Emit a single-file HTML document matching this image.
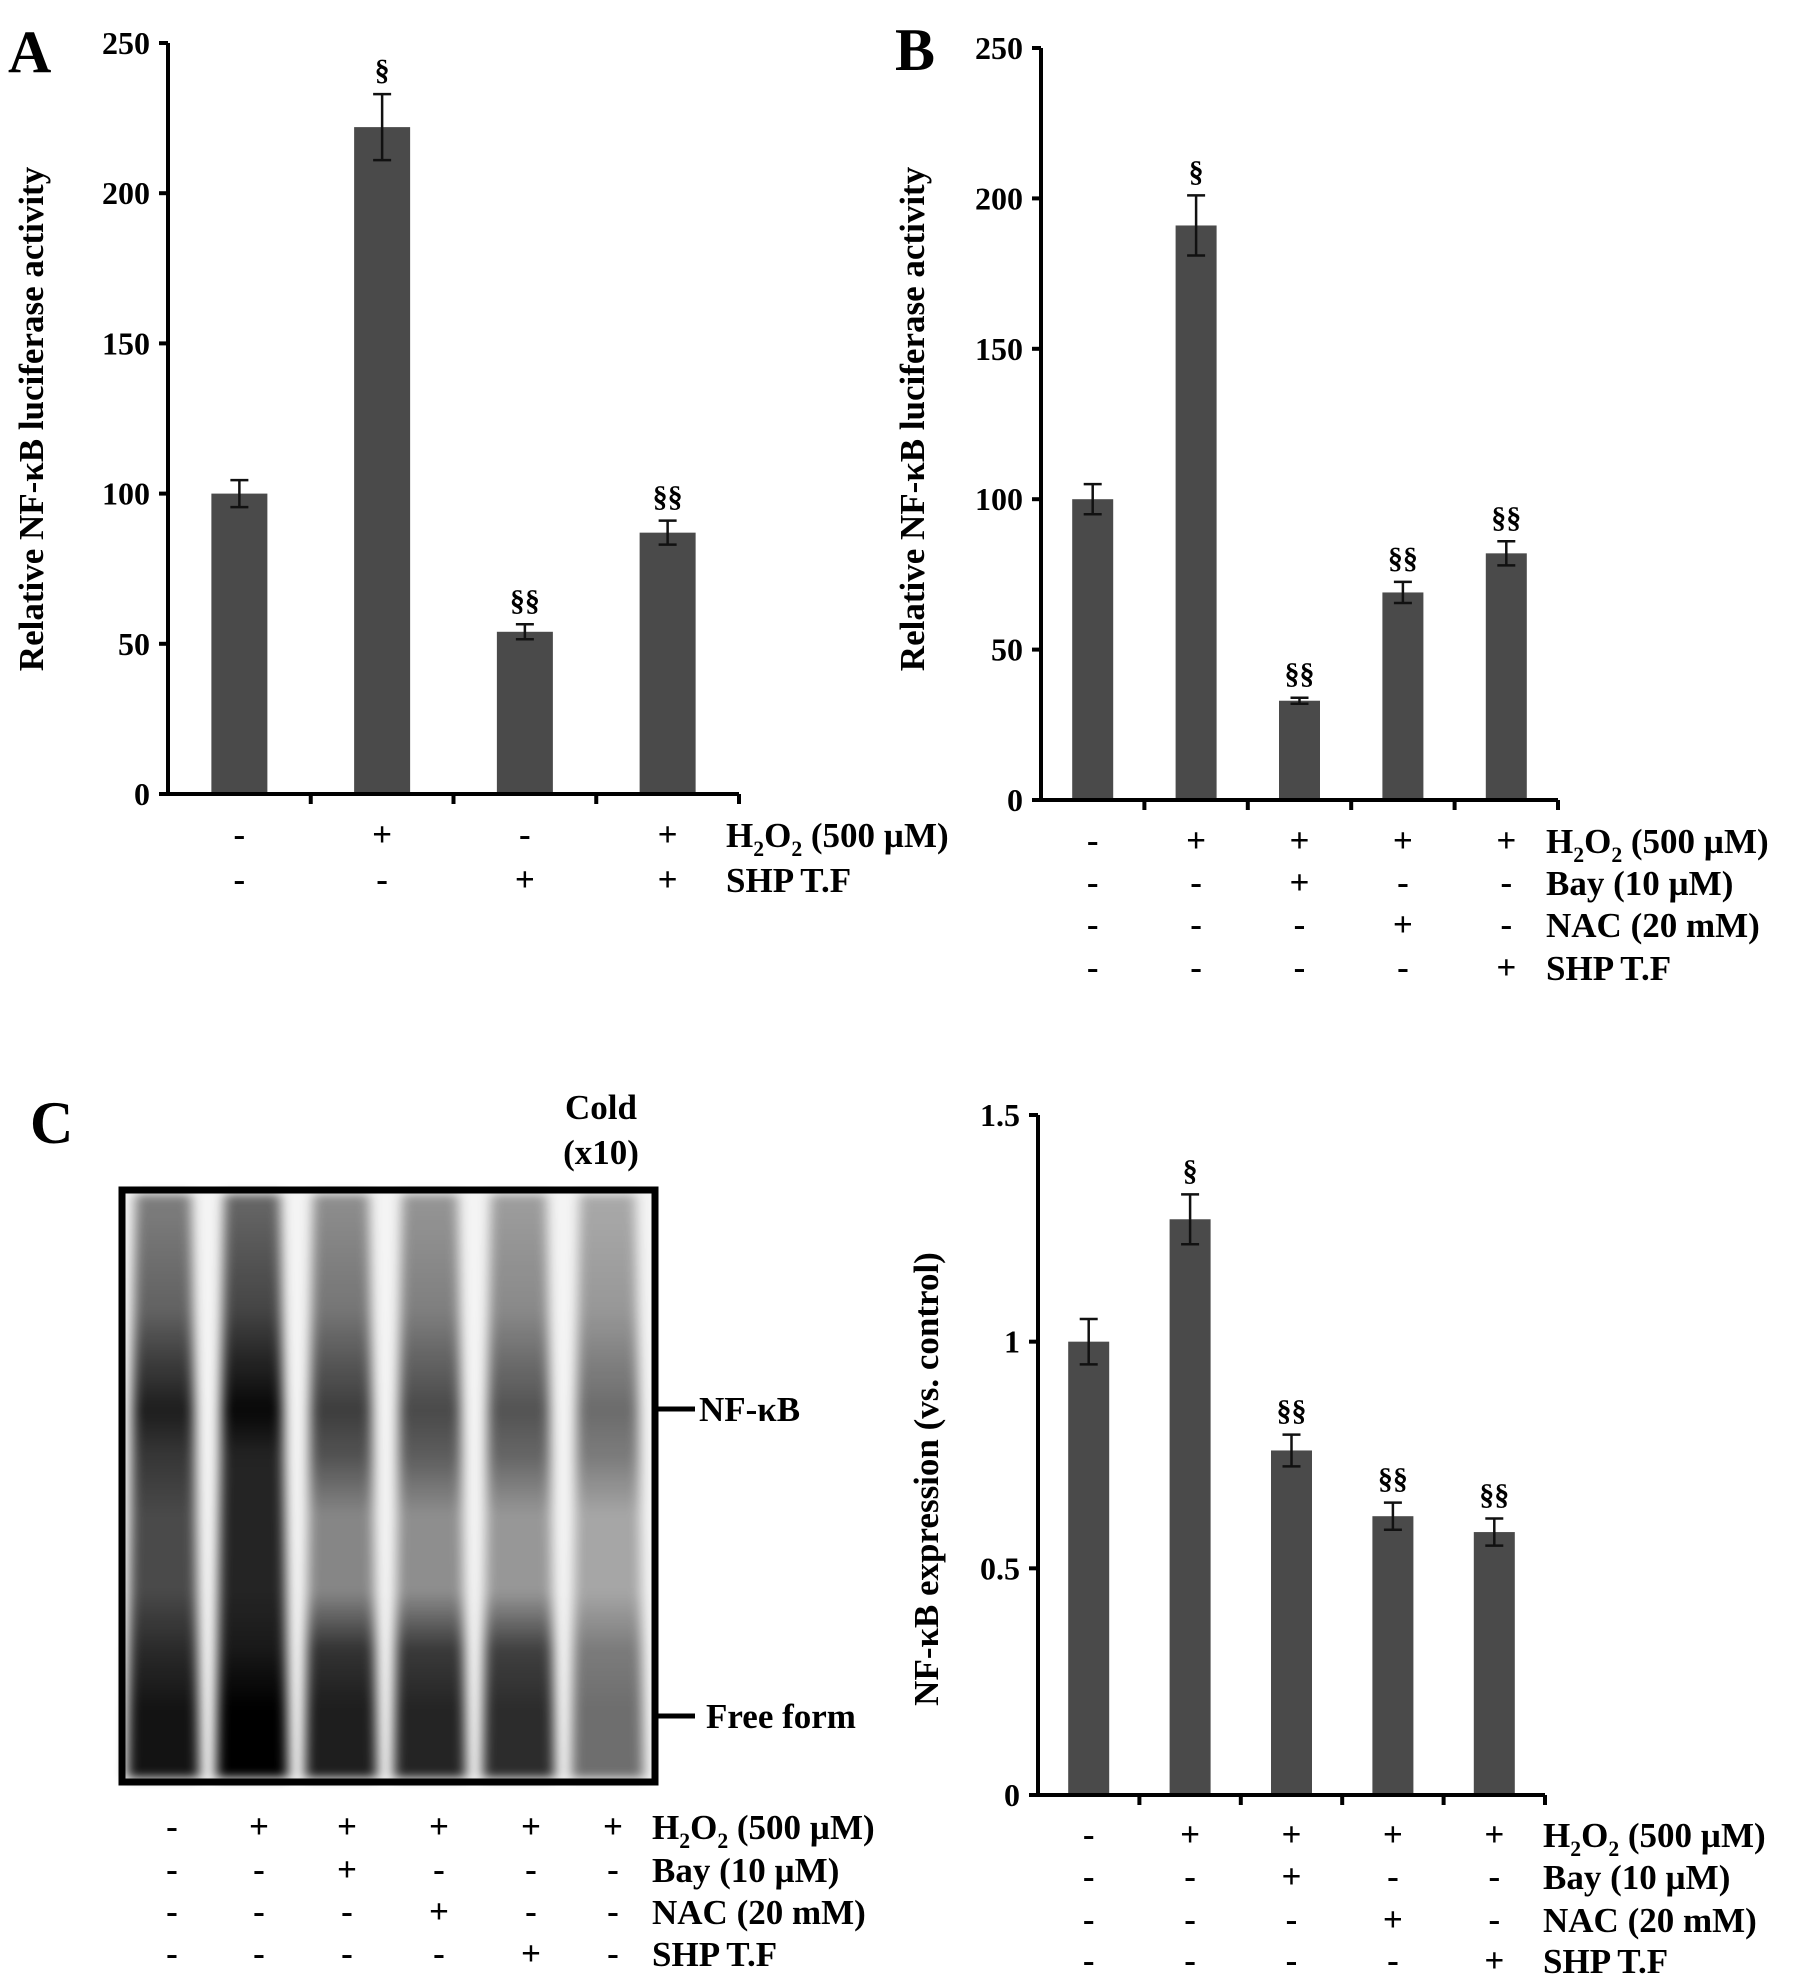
<!DOCTYPE html>
<html><head><meta charset="utf-8">
<style>
html,body{margin:0;padding:0;background:#fff;}
svg{display:block;font-family:"Liberation Serif",serif;font-weight:bold;}
</style></head>
<body>
<svg id="fig" width="1795" height="1988" viewBox="0 0 1795 1988" xmlns="http://www.w3.org/2000/svg">
<defs>
<filter id="blur" x="-30%" y="-5%" width="160%" height="110%"><feGaussianBlur stdDeviation="6 5"/></filter>
</defs>
</svg>
<script>
// ---------- Panel A data ----------
const aValues = [100, 222, 54, 87];
const aErrors = [4.5, 11, 2.5, 4];
const aMarks = ["", "§", "§§", "§§"];
const aTicks = [0, 50, 100, 150, 200, 250];
const aRowLabels = ["H₂O₂ (500 µM)", "SHP T.F"];
const aRows = [["-", "+", "-", "+"], ["-", "-", "+", "+"]];
// ---------- Panel B data ----------
const bValues = [100, 191, 33, 69, 82];
const bErrors = [5, 10, 1, 3.5, 4];
const bMarks = ["", "§", "§§", "§§", "§§"];
const bTicks = [0, 50, 100, 150, 200, 250];
const bRowLabels = ["H₂O₂ (500 µM)", "Bay (10 µM)", "NAC (20 mM)", "SHP T.F"];
const bRows = [["-", "+", "+", "+", "+"], ["-", "-", "+", "-", "-"], ["-", "-", "-", "+", "-"], ["-", "-", "-", "-", "+"]];
// ---------- Panel C bar data ----------
const cValues = [1.0, 1.27, 0.76, 0.615, 0.58];
const cErrors = [0.05, 0.055, 0.035, 0.03, 0.03];
const cMarks = ["", "§", "§§", "§§", "§§"];
const cTicks = [0, 0.5, 1, 1.5];
const cTickLabels = ["0", "0.5", "1", "1.5"];
const cRowLabels = ["H₂O₂ (500 µM)", "Bay (10 µM)", "NAC (20 mM)", "SHP T.F"];
const cRows = [["-", "+", "+", "+", "+"], ["-", "-", "+", "-", "-"], ["-", "-", "-", "+", "-"], ["-", "-", "-", "-", "+"]];
// ---------- Gel data (relative intensities: top, NF-kB band, middle, free form) ----------
const gelTop = [0.6, 0.72, 0.52, 0.48, 0.44, 0.38];
const gelBand = [0.88, 0.97, 0.75, 0.7, 0.66, 0.56];
const gelMid = [0.7, 0.85, 0.45, 0.42, 0.38, 0.32];
const gelFree = [0.92, 1.0, 0.88, 0.85, 0.82, 0.55];
const gelRowLabels = ["H₂O₂ (500 µM)", "Bay (10 µM)", "NAC (20 mM)", "SHP T.F"];
const gelRows = [["-", "+", "+", "+", "+", "+"], ["-", "-", "+", "-", "-", "-"], ["-", "-", "-", "+", "-", "-"], ["-", "-", "-", "-", "+", "-"]];

const NS = "http://www.w3.org/2000/svg";
const svg = document.getElementById("fig");
function el(tag, attrs, parent) {
  const e = document.createElementNS(NS, tag);
  for (const k in attrs) e.setAttribute(k, attrs[k]);
  (parent || svg).appendChild(e);
  return e;
}
function txt(x, y, s, size, anchor, parent) {
  const t = el("text", {x: x, y: y, "font-size": size, "text-anchor": anchor || "start"}, parent);
  t.textContent = s;
  return t;
}
function rowLabel(x, y, s, size, g) {
  const t = el("text", {x: x, y: y, "font-size": size}, g);
  if (s.indexOf("H₂O₂") === 0) {
    const parts = [["H", 0], ["2", 1], ["O", 0], ["2", 1], [s.slice(4), 0]];
    parts.forEach(p => {
      const ts = el("tspan", {}, t);
      if (p[1]) { ts.setAttribute("font-size", size * 0.62); ts.setAttribute("dy", 9); }
      else if (t.childNodes.length > 1) { ts.setAttribute("dy", -9); }
      ts.textContent = p[0];
    });
  } else t.textContent = s;
  return t;
}
const FS = 35;

function barChart(cfg) {
  const g = el("g", {});
  
  
  const n = cfg.values.length;
  const cw = (cfg.xEnd - cfg.x0) / n;
  const yS = v => cfg.y0 - v / cfg.yMax * (cfg.y0 - cfg.yTop);
  const xC = i => cfg.x0 + cw * (i + 0.5);
  cfg.values.forEach((v, i) => {
    const r = el("rect", {x: xC(i) - cfg.bw / 2, y: yS(v), width: cfg.bw, height: cfg.y0 - yS(v), fill: "#4a4a4a"}, g);
    
    
    const e = cfg.errors[i];
    const eb = el("path", {d: `M${xC(i)},${yS(v + e)}V${yS(v - e)}M${xC(i) - 9},${yS(v + e)}h18M${xC(i) - 9},${yS(v - e)}h18`, stroke: "#111", "stroke-width": 2.5, fill: "none"}, g);
    
    
    if (cfg.marks[i]) {
      const m = txt(xC(i), yS(v + e) - 14, cfg.marks[i], 30, "middle", g);
      
      
    }
  });
  const ax = el("path", {d: `M${cfg.x0},${cfg.yTop}V${cfg.y0}H${cfg.xEnd}`, stroke: "#000", "stroke-width": 4, fill: "none"}, g);
  
  
  for (let i = 1; i <= n; i++) {
    el("line", {x1: cfg.x0 + cw * i, y1: cfg.y0, x2: cfg.x0 + cw * i, y2: cfg.y0 + 10, stroke: "#000", "stroke-width": 4}, g);
  }
  cfg.ticks.forEach((t, i) => {
    el("line", {x1: cfg.x0 - 9, y1: yS(t), x2: cfg.x0, y2: yS(t), stroke: "#000", "stroke-width": 4}, g);
    const l = txt(cfg.x0 - 18, yS(t) + 11, cfg.tickLabels ? cfg.tickLabels[i] : String(t), 32, "end", g);
    
    
  });
  const yl = txt(0, 0, cfg.yLabel, FS, "middle", g);
  yl.setAttribute("transform", `translate(${cfg.yLabelX},${cfg.yLabelY}) rotate(-90)`);
  
  
  cfg.rows.forEach((row, r) => {
    row.forEach((s, i) => {
      const t = txt(xC(i), cfg.rowY[r] + 11, s, FS, "middle", g);
      
      
    });
    const lab = rowLabel(cfg.labelX, cfg.rowY[r] + 12, cfg.rowLabels[r], FS, g);
    
    
  });
}

barChart({name: "panel-a-chart", values: aValues, errors: aErrors, marks: aMarks, ticks: aTicks, yMax: 250,
  x0: 168, xEnd: 739, y0: 794, yTop: 43, bw: 56, yLabel: "Relative NF-κB luciferase activity", yLabelX: 43, yLabelY: 419,
  rows: aRows, rowLabels: aRowLabels, rowY: [835, 880], labelX: 726});
barChart({name: "panel-b-chart", values: bValues, errors: bErrors, marks: bMarks, ticks: bTicks, yMax: 250,
  x0: 1041, xEnd: 1558, y0: 800, yTop: 48, bw: 41, yLabel: "Relative NF-κB luciferase activity", yLabelX: 924, yLabelY: 419,
  rows: bRows, rowLabels: bRowLabels, rowY: [841, 883, 925, 968], labelX: 1546});
barChart({name: "panel-c-chart", values: cValues, errors: cErrors, marks: cMarks, ticks: cTicks, tickLabels: cTickLabels, yMax: 1.5,
  x0: 1038, xEnd: 1545, y0: 1795, yTop: 1115, bw: 41, yLabel: "NF-κB expression (vs. control)", yLabelX: 938, yLabelY: 1479,
  rows: cRows, rowLabels: cRowLabels, rowY: [1835, 1877, 1920, 1961], labelX: 1543});

[["A", 8, 72], ["B", 895, 70], ["C", 30, 1143]].forEach(p => {
  const t = txt(p[1], p[2], p[0], 60);
  
  
});

// ---------- Gel ----------
const gel = el("g", {});


const gx0 = 122, gx1 = 655, gy0 = 1190, gy1 = 1782;
el("rect", {x: gx0, y: gy0, width: gx1 - gx0, height: gy1 - gy0, fill: "#f4f4f4"}, gel);
const lanesG = el("g", {filter: "url(#blur)"}, gel);
const laneCw = (gx1 - gx0) / gelTop.length;
gelTop.forEach((t, i) => {
  const id = "lg" + i;
  const lg = el("linearGradient", {id: id, x1: 0, y1: 0, x2: 0, y2: 1}, svg.querySelector("defs"));
  const stops = [[0, t * 0.8], [0.2, t], [0.28, (t + gelBand[i]) / 2], [0.37, gelBand[i]], [0.45, gelBand[i] * 0.88], [0.55, gelMid[i]], [0.68, gelMid[i]], [0.78, gelFree[i] * 0.9], [0.88, gelFree[i]], [1, gelFree[i]]];
  stops.forEach(s => el("stop", {offset: s[0], "stop-color": "#000", "stop-opacity": s[1]}, lg));
  const cx = gx0 + laneCw * (i + 0.5) - 3;
  const lane = el("path", {d: `M${cx - 28},${gy0 + 4}L${cx + 28},${gy0 + 4}L${cx + 36},${gy1 - 4}L${cx - 36},${gy1 - 4}Z`, fill: `url(#${id})`}, lanesG);
  
  
});
el("rect", {x: gx0, y: gy0, width: gx1 - gx0, height: gy1 - gy0, fill: "none", stroke: "#000", "stroke-width": 7}, gel);
el("line", {x1: gx1, y1: 1409, x2: 695, y2: 1409, stroke: "#000", "stroke-width": 5}, gel);
el("line", {x1: gx1, y1: 1716, x2: 695, y2: 1716, stroke: "#000", "stroke-width": 5}, gel);
let t1 = txt(699, 1421, "NF-κB", FS, "start", gel);


let t2 = txt(706, 1728, "Free form", FS, "start", gel);


let t3 = txt(601, 1119, "Cold", FS, "middle", gel);


let t4 = txt(601, 1164, "(x10)", FS, "middle", gel);


const gelCols = [172, 259, 347, 439, 531, 613];
const gelRowY = [1827, 1870, 1912, 1954];
gelRows.forEach((row, r) => {
  row.forEach((s, i) => {
    const t = txt(gelCols[i], gelRowY[r] + 11, s, FS, "middle", gel);
    
    
  });
  const lab = rowLabel(652, gelRowY[r] + 12, gelRowLabels[r], FS, gel);
  
  
});
</script>
</body></html>
